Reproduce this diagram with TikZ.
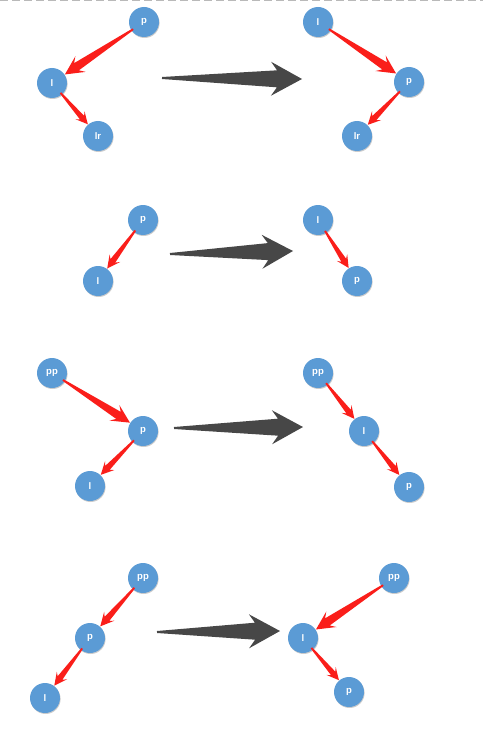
\documentclass[tikz,border=0pt]{standalone}
\usepackage{fontspec}
\setsansfont{Liberation Sans}
\usetikzlibrary{calc,shadows}
\definecolor{nodeblue}{HTML}{5B9BD5}
\definecolor{arrred}{HTML}{FA1E1A}
\definecolor{bigdark}{HTML}{474747}
\tikzset{
  tnode/.style={circle, fill=nodeblue, minimum size=30pt, inner sep=0pt,
    text=white, font=\sffamily\bfseries\fontsize{9.5}{10}\selectfont,
    drop shadow={shadow xshift=0.6pt, shadow yshift=-1pt, opacity=0.2, fill=black}},
  tarr/.style={fill=arrred},
  bigarr/.style={fill=bigdark},
}
% tapered red arrow from node #1 to node #2
\newcommand\tarrow[2]{%
\fill[tarr] let
 \p1 = ($(#1)!13pt!(#2)$),
 \p2 = ($(#2)!15.5pt!(#1)$),
 \p9 = ($(#2)-(#1)$),
 \n1 = {veclen(\x9,\y9)},
 \n2 = {0.17*\n1},
 \n3 = {0.74*\n2},
 \n4 = {0.5*\n2},
 \n5 = {0.23*\n2},
 \p3 = ($(\p2)!\n2!(\p1)$),
 \p4 = ($(\p2)!\n3!(\p1)$)
 in ($(\p1)!0.9pt!90:(\p2)$) -- ($(\p4)!\n5!90:(\p2)$) -- ($(\p3)!\n4!90:(\p2)$)
 -- (\p2) -- ($(\p3)!\n4!-90:(\p2)$) -- ($(\p4)!\n5!-90:(\p2)$)
 -- ($(\p1)!0.9pt!-90:(\p2)$) -- cycle;}
% big dark arrow from coordinate #1 to coordinate #2
\newcommand\bigarrow[2]{%
\fill[bigarr] let
 \p1 = (#1), \p2 = (#2),
 \p3 = ($(#2)!31pt!(#1)$),
 \p4 = ($(#2)!25pt!(#1)$)
 in ($(\p1)!1pt!90:(\p2)$) -- ($(\p4)!8.5pt!90:(\p2)$) -- ($(\p3)!17pt!90:(\p2)$)
 -- (\p2) -- ($(\p3)!17pt!-90:(\p2)$) -- ($(\p4)!8.5pt!-90:(\p2)$)
 -- ($(\p1)!1pt!-90:(\p2)$) -- cycle;}
\begin{document}
\begin{tikzpicture}[x=1pt,y=-1pt]
\useasboundingbox (0,0) rectangle (483,749);
\fill[white] (0,0) rectangle (483,749);
\coordinate (dl) at (0,1);
\coordinate (dr) at (483,1);
\draw[gray!55, line width=1pt, dash pattern=on 8pt off 4pt] (dl) -- (dr);

% ---- section 1
\node[tnode] (p1) at (144,22) {p};
\node[tnode] (l1) at (52,83) {l};
\node[tnode] (lr1) at (98,136) {lr};
\node[tnode] (l1r) at (318,22) {l};
\node[tnode] (p1r) at (409,82) {p};
\node[tnode] (lr1r) at (357,136) {lr};
\tarrow{p1}{l1}
\tarrow{l1}{lr1}
\tarrow{l1r}{p1r}
\tarrow{p1r}{lr1r}
\coordinate (a1s) at (162,78);
\coordinate (a1e) at (302,79);
\bigarrow{a1s}{a1e}

% ---- section 2
\node[tnode] (p2) at (143,220) {p};
\node[tnode] (l2) at (98,281) {l};
\node[tnode] (l2r) at (318,220) {l};
\node[tnode] (p2r) at (357,281) {p};
\tarrow{p2}{l2}
\tarrow{l2r}{p2r}
\coordinate (a2s) at (170,254);
\coordinate (a2e) at (293,251);
\bigarrow{a2s}{a2e}

% ---- section 3
\node[tnode] (pp3) at (52,373) {pp};
\node[tnode] (p3) at (143,431) {p};
\node[tnode] (l3) at (90,486) {l};
\node[tnode] (pp3r) at (318,373) {pp};
\node[tnode] (l3r) at (364,431) {l};
\node[tnode] (p3r) at (409,487) {p};
\tarrow{pp3}{p3}
\tarrow{p3}{l3}
\tarrow{pp3r}{l3r}
\tarrow{l3r}{p3r}
\coordinate (a3s) at (174,428);
\coordinate (a3e) at (303,427);
\bigarrow{a3s}{a3e}

% ---- section 4
\node[tnode] (pp4) at (143,578) {pp};
\node[tnode] (p4) at (90,638) {p};
\node[tnode] (l4) at (45,698) {l};
\node[tnode] (pp4r) at (394,578) {pp};
\node[tnode] (l4r) at (303,638) {l};
\node[tnode] (p4r) at (349,692) {p};
\tarrow{pp4}{p4}
\tarrow{p4}{l4}
\tarrow{pp4r}{l4r}
\tarrow{l4r}{p4r}
\coordinate (a4s) at (157,632);
\coordinate (a4e) at (280,631);
\bigarrow{a4s}{a4e}
\end{tikzpicture}
\end{document}
